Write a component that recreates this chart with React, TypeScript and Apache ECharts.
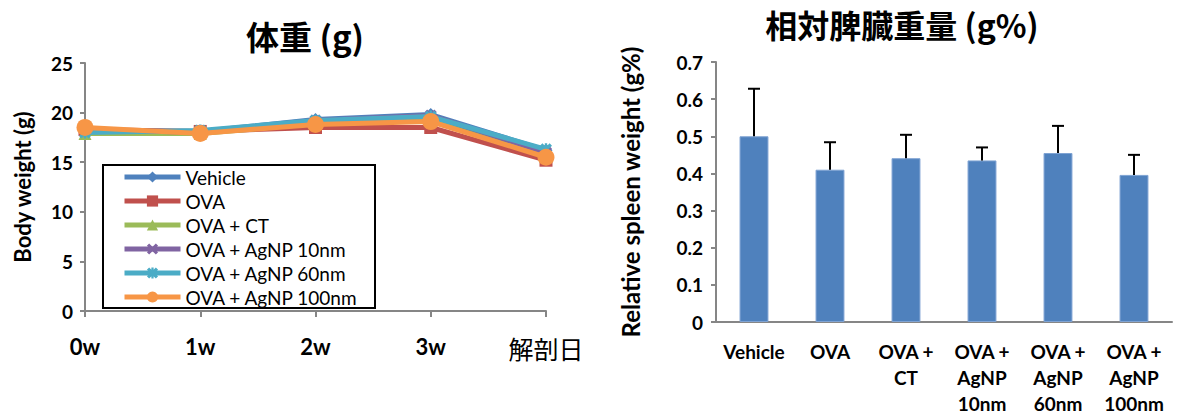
import React, { useEffect, useRef } from "react";
import * as echarts from "echarts";

// Body-weight time course
const weekLabels = ["0w", "1w", "2w", "3w", "解剖日"];
const groupNames = [
  "Vehicle",
  "OVA",
  "OVA + CT",
  "OVA + AgNP 10nm",
  "OVA + AgNP 60nm",
  "OVA + AgNP 100nm",
];
const vehicleWeight = [18.2, 18.1, 19.3, 19.8, 16.2];
const ovaWeight = [18.3, 18.1, 18.5, 18.5, 15.2];
const ctWeight = [17.9, 17.9, 18.9, 19.3, 15.6];
const agnp10Weight = [18.3, 18.0, 19.2, 19.7, 16.0];
const agnp60Weight = [18.0, 18.2, 19.2, 19.6, 16.3];
const agnp100Weight = [18.5, 17.9, 18.8, 19.1, 15.5];
const weightTicks = [0, 5, 10, 15, 20, 25];

// Relative spleen weight
const spleenCategories = [
  "Vehicle",
  "OVA",
  "OVA +\nCT",
  "OVA +\nAgNP\n10nm",
  "OVA +\nAgNP\n60nm",
  "OVA +\nAgNP\n100nm",
];
const spleenMean = [0.5, 0.41, 0.441, 0.435, 0.455, 0.396];
const spleenSD = [0.128, 0.074, 0.063, 0.035, 0.073, 0.054];

const LATIN = "Lato, 'Noto Sans CJK JP', sans-serif";
const CJK = "'Noto Sans CJK JP', sans-serif";
const AXIS_GRAY = "#868686";

const xMark =
  "path://M0,2 L2,0 L5,3 L8,0 L10,2 L7,5 L10,8 L8,10 L5,7 L2,10 L0,8 L3,5 Z";
const starMark =
  "path://M0,2 L2,0 L5,3 L8,0 L10,2 L7,5 L10,8 L8,10 L5,7 L2,10 L0,8 L3,5 Z M4,0 L6,0 L6,10 L4,10 Z";

const weightSeries = [
  { data: vehicleWeight, color: "#4F81BD", symbol: "diamond", size: 13 },
  { data: ovaWeight, color: "#C0504D", symbol: "rect", size: 13 },
  { data: ctWeight, color: "#9BBB59", symbol: "triangle", size: 13 },
  { data: agnp10Weight, color: "#8064A2", symbol: xMark, size: 12 },
  { data: agnp60Weight, color: "#4BACC6", symbol: starMark, size: 12 },
  { data: agnp100Weight, color: "#F79646", symbol: "circle", size: 17 },
];

export default function App() {
  const ref = useRef<HTMLDivElement>(null);

  useEffect(() => {
    if (!ref.current) return;
    const chart = echarts.init(ref.current, null, { renderer: "svg" });

    const lineSeries = weightSeries.map((s, i) => ({
      name: groupNames[i],
      type: "line",
      xAxisIndex: 0,
      yAxisIndex: 0,
      data: s.data,
      symbol: s.symbol,
      symbolSize: s.size,
      lineStyle: { width: 5, color: s.color },
      itemStyle: { color: s.color },
      z: 2 + i * 0.01,
    }));

    chart.setOption({
      animation: false,
      backgroundColor: "#ffffff",
      title: [
        {
          text: "体重 (g)",
          left: 300,
          top: 14,
          textAlign: "center",
          textStyle: { fontFamily: CJK, fontSize: 33, fontWeight: "bold", color: "#000" },
        },
        {
          text: "相対脾臓重量 (g%)",
          left: 902,
          top: 7,
          padding: 0,
          textAlign: "center",
          textStyle: {
            fontFamily: CJK,
            fontSize: 32,
            lineHeight: 34,
            fontWeight: "bold",
            color: "#000",
          },
        },
      ],
      legend: {
        data: groupNames,
        orient: "vertical",
        left: 122,
        top: 167,
        padding: 0,
        itemWidth: 56,
        itemHeight: 14,
        itemGap: 4,
        selectedMode: false,
        lineStyle: { width: 5 },
        textStyle: { fontFamily: LATIN, fontSize: 19, lineHeight: 20, color: "#000" },
      },
      graphic: [
        {
          type: "rect",
          z: 3,
          shape: { x: 103, y: 165, width: 272, height: 143 },
          style: { fill: "#ffffff", stroke: "#000000", lineWidth: 2 },
        },
      ],
      grid: [
        { left: 85, top: 63, width: 461, height: 248 },
        { left: 716, top: 62, width: 456, height: 260 },
      ],
      xAxis: [
        {
          type: "category",
          gridIndex: 0,
          data: weekLabels,
          boundaryGap: false,
          axisLine: { lineStyle: { color: AXIS_GRAY, width: 2 } },
          axisTick: { length: 6, lineStyle: { color: AXIS_GRAY, width: 2 } },
          axisLabel: {
            margin: 24,
            color: "#000",
            formatter: (v: string) => (v === "解剖日" ? `{j|${v}}` : `{w|${v}}`),
            rich: {
              w: { fontFamily: LATIN, fontSize: 22, fontWeight: "bold", color: "#000" },
              j: { fontFamily: CJK, fontSize: 25, color: "#000" },
            },
          },
        },
        {
          type: "category",
          gridIndex: 1,
          data: spleenCategories,
          axisLine: { lineStyle: { color: AXIS_GRAY, width: 2 } },
          axisTick: { length: 6, lineStyle: { color: AXIS_GRAY, width: 2 } },
          axisLabel: {
            margin: 16,
            interval: 0,
            verticalAlign: "top",
            fontFamily: LATIN,
            fontSize: 19,
            fontWeight: "bold",
            lineHeight: 26,
            color: "#000",
          },
        },
      ],
      yAxis: [
        {
          type: "value",
          gridIndex: 0,
          min: 0,
          max: 25,
          interval: 5,
          name: "Body weight (g)",
          nameLocation: "middle",
          nameGap: 52,
          nameRotate: 90,
          nameTextStyle: { fontFamily: LATIN, fontSize: 22, fontWeight: "bold", color: "#000" },
          splitLine: { show: false },
          axisLine: { show: true, lineStyle: { color: AXIS_GRAY, width: 2 } },
          axisTick: { show: true, length: 5, lineStyle: { color: AXIS_GRAY, width: 2 } },
          axisLabel: {
            margin: 12,
            fontFamily: LATIN,
            fontSize: 19,
            fontWeight: "bold",
            color: "#000",
            formatter: (v: number) => (weightTicks.includes(v) ? String(v) : ""),
          },
        },
        {
          type: "value",
          gridIndex: 1,
          min: 0,
          max: 0.7,
          interval: 0.1,
          name: "Relative spleen weight (g%)",
          nameLocation: "middle",
          nameGap: 74,
          nameRotate: 90,
          nameTextStyle: { fontFamily: LATIN, fontSize: 24, fontWeight: "bold", color: "#000" },
          splitLine: { show: false },
          axisLine: { show: true, lineStyle: { color: AXIS_GRAY, width: 2 } },
          axisTick: { show: true, length: 5, lineStyle: { color: AXIS_GRAY, width: 2 } },
          axisLabel: {
            margin: 13,
            fontFamily: LATIN,
            fontSize: 19,
            fontWeight: "bold",
            color: "#000",
            formatter: (v: number) => (v === 0 ? "0" : v.toFixed(1)),
          },
        },
      ],
      series: [
        ...lineSeries,
        {
          name: "spleen",
          type: "bar",
          xAxisIndex: 1,
          yAxisIndex: 1,
          data: spleenMean,
          barWidth: "38%",
          itemStyle: { color: "#4F81BD", borderColor: "#7FA3D3", borderWidth: 1 },
        },
        {
          name: "spleenError",
          type: "custom",
          xAxisIndex: 1,
          yAxisIndex: 1,
          data: spleenMean.map((m, i) => [i, m, m + spleenSD[i]]),
          z: 5,
          renderItem: (params: any, api: any) => {
            const base = api.coord([api.value(0), api.value(1)]);
            const top = api.coord([api.value(0), api.value(2)]);
            const half = 6;
            return {
              type: "group",
              children: [
                {
                  type: "line",
                  shape: { x1: base[0], y1: base[1], x2: top[0], y2: top[1] },
                  style: { stroke: "#000", lineWidth: 2 },
                },
                {
                  type: "line",
                  shape: { x1: top[0] - half, y1: top[1], x2: top[0] + half, y2: top[1] },
                  style: { stroke: "#000", lineWidth: 2 },
                },
              ],
            };
          },
        },
      ],
    });

    return () => chart.dispose();
  }, []);

  return (
    <div
      ref={ref}
      style={{ position: "fixed", left: 0, top: 0, width: 1178, height: 416 }}
    />
  );
}
